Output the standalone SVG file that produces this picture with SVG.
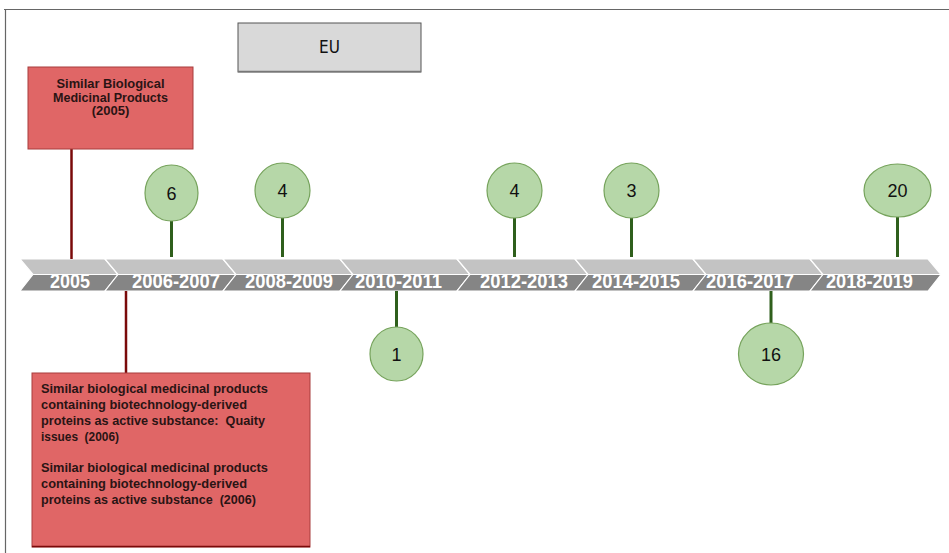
<svg xmlns="http://www.w3.org/2000/svg" width="949" height="553" viewBox="0 0 949 553">
<style>
.seg-top{fill:#c3c3c3;stroke:#ffffff;stroke-width:1.2}
.seg-bot{fill:#858585;stroke:#ffffff;stroke-width:1.2}
.yr{font-family:"Liberation Sans",Arial,sans-serif;font-weight:bold;font-size:21px;fill:#ffffff;text-anchor:middle}
.circ{fill:#b6d7a8;stroke:#76a35c;stroke-width:1.2}
.num{font-family:"Liberation Sans",Arial,sans-serif;font-size:18px;fill:#111111;text-anchor:middle}
.gline{stroke:#2f5f1c;stroke-width:3;fill:none}
.rline{stroke:#7a0a0a;stroke-width:2.5;fill:none}
.rbox{fill:#e06666;stroke:#a83c3c;stroke-width:1}
.rt{font-family:"Liberation Sans",Arial,sans-serif;font-weight:bold;font-size:13px;fill:#2a1414;white-space:pre}
</style>
<rect x="0" y="0" width="949" height="553" fill="#ffffff"/>
<path d="M4 9.5 H949 M5.5 9 V553" stroke="#666666" stroke-width="1.2" fill="none"/>

<g id="eu">
<rect x="238" y="23" width="183" height="49" fill="#d9d9d9" stroke="#555555" stroke-width="1"/>
<line x1="238" y1="71.5" x2="421" y2="71.5" stroke="#777777" stroke-width="1.5"/>
<text x="329.5" y="53" font-family="'DejaVu Sans Condensed','Liberation Sans',sans-serif" font-size="17" fill="#111111" text-anchor="middle">EU</text>
</g>

<g id="timeline">
<g id="seg-2005">
<polygon class="seg-top" points="20,259 105,259 118,274.5 33,274.5"/>
<polygon class="seg-bot" points="33,274.5 118,274.5 105,291 20,291"/>
<text class="yr" x="70" y="288" textLength="40" lengthAdjust="spacingAndGlyphs">2005</text>
</g>
<g id="seg-2006">
<polygon class="seg-top" points="105,259 223,259 236,274.5 118,274.5"/>
<polygon class="seg-bot" points="118,274.5 236,274.5 223,291 105,291"/>
<text class="yr" x="176" y="288" textLength="88" lengthAdjust="spacingAndGlyphs">2006-2007</text>
</g>
<g id="seg-2008">
<polygon class="seg-top" points="223,259 340,259 353,274.5 236,274.5"/>
<polygon class="seg-bot" points="236,274.5 353,274.5 340,291 223,291"/>
<text class="yr" x="289" y="288" textLength="88" lengthAdjust="spacingAndGlyphs">2008-2009</text>
</g>
<g id="seg-2010">
<polygon class="seg-top" points="340,259 457,259 470,274.5 353,274.5"/>
<polygon class="seg-bot" points="353,274.5 470,274.5 457,291 340,291"/>
<text class="yr" x="398.5" y="288" textLength="87" lengthAdjust="spacingAndGlyphs">2010-2011</text>
</g>
<g id="seg-2012">
<polygon class="seg-top" points="457,259 575,259 588,274.5 470,274.5"/>
<polygon class="seg-bot" points="470,274.5 588,274.5 575,291 457,291"/>
<text class="yr" x="524" y="288" textLength="88" lengthAdjust="spacingAndGlyphs">2012-2013</text>
</g>
<g id="seg-2014">
<polygon class="seg-top" points="575,259 693,259 706,274.5 588,274.5"/>
<polygon class="seg-bot" points="588,274.5 706,274.5 693,291 575,291"/>
<text class="yr" x="636" y="288" textLength="88" lengthAdjust="spacingAndGlyphs">2014-2015</text>
</g>
<g id="seg-2016">
<polygon class="seg-top" points="693,259 810,259 823,274.5 706,274.5"/>
<polygon class="seg-bot" points="706,274.5 823,274.5 810,291 693,291"/>
<text class="yr" x="750" y="288" textLength="88" lengthAdjust="spacingAndGlyphs">2016-2017</text>
</g>
<g id="seg-2018">
<polygon class="seg-top" points="810,259 928,259 941,274.5 823,274.5"/>
<polygon class="seg-bot" points="823,274.5 941,274.5 928,291 810,291"/>
<text class="yr" x="869.5" y="288" textLength="87" lengthAdjust="spacingAndGlyphs">2018-2019</text>
</g>
</g>

<g id="connectors">
<line class="rline" x1="71.5" y1="149" x2="71.5" y2="259"/>
<line class="rline" x1="126" y1="291" x2="126" y2="373"/>
<line class="gline" x1="171.5" y1="221" x2="171.5" y2="257"/>
<line class="gline" x1="282.5" y1="218" x2="282.5" y2="257"/>
<line class="gline" x1="514.5" y1="218" x2="514.5" y2="257"/>
<line class="gline" x1="631.5" y1="218" x2="631.5" y2="257"/>
<line class="gline" x1="897.5" y1="217" x2="897.5" y2="257"/>
<line class="gline" x1="396.5" y1="291" x2="396.5" y2="327"/>
<line class="gline" x1="771" y1="291" x2="771" y2="323"/>
</g>

<g id="c6"><ellipse class="circ" cx="171.5" cy="193" rx="26.5" ry="28"/><text class="num" x="171.5" y="199.5">6</text></g>
<g id="c4a"><ellipse class="circ" cx="282.5" cy="190.5" rx="27.5" ry="27.5"/><text class="num" x="282.5" y="197">4</text></g>
<g id="c4b"><ellipse class="circ" cx="514.5" cy="190.5" rx="27.5" ry="27.5"/><text class="num" x="514.5" y="197">4</text></g>
<g id="c3"><ellipse class="circ" cx="631.5" cy="190.5" rx="27.5" ry="27.5"/><text class="num" x="631.5" y="197">3</text></g>
<g id="c20"><ellipse class="circ" cx="897.5" cy="190.5" rx="33.5" ry="26.5"/><text class="num" x="897.5" y="197">20</text></g>
<g id="c1"><ellipse class="circ" cx="396.5" cy="354" rx="26.5" ry="27"/><text class="num" x="396.5" y="360.5">1</text></g>
<g id="c16"><ellipse class="circ" cx="771" cy="354" rx="32.5" ry="31"/><text class="num" x="771" y="360.5">16</text></g>

<g id="box-2005">
<rect class="rbox" x="28" y="67" width="165" height="82"/>
<text class="rt" text-anchor="middle"><tspan x="110.5" y="88" textLength="108" lengthAdjust="spacingAndGlyphs">Similar Biological</tspan><tspan x="110.5" y="101.5" textLength="115" lengthAdjust="spacingAndGlyphs">Medicinal Products</tspan><tspan x="110.5" y="115">(2005)</tspan></text>
</g>

<g id="box-2006">
<rect class="rbox" x="32" y="373" width="278" height="174"/>
<line x1="32" y1="546.5" x2="310" y2="546.5" stroke="#7a0a0a" stroke-width="1.5"/>
<text class="rt"><tspan x="41" y="393" textLength="227" lengthAdjust="spacingAndGlyphs">Similar biological medicinal products</tspan><tspan x="41" y="409" textLength="206" lengthAdjust="spacingAndGlyphs">containing biotechnology-derived</tspan><tspan x="41" y="425" textLength="224" lengthAdjust="spacingAndGlyphs">proteins as active substance:  Quaity</tspan><tspan x="41" y="441" textLength="78" lengthAdjust="spacingAndGlyphs">issues  (2006)</tspan><tspan x="41" y="472" textLength="227" lengthAdjust="spacingAndGlyphs">Similar biological medicinal products</tspan><tspan x="41" y="488" textLength="206" lengthAdjust="spacingAndGlyphs">containing biotechnology-derived</tspan><tspan x="41" y="504" textLength="215" lengthAdjust="spacingAndGlyphs">proteins as active substance  (2006)</tspan></text>
</g>
</svg>
